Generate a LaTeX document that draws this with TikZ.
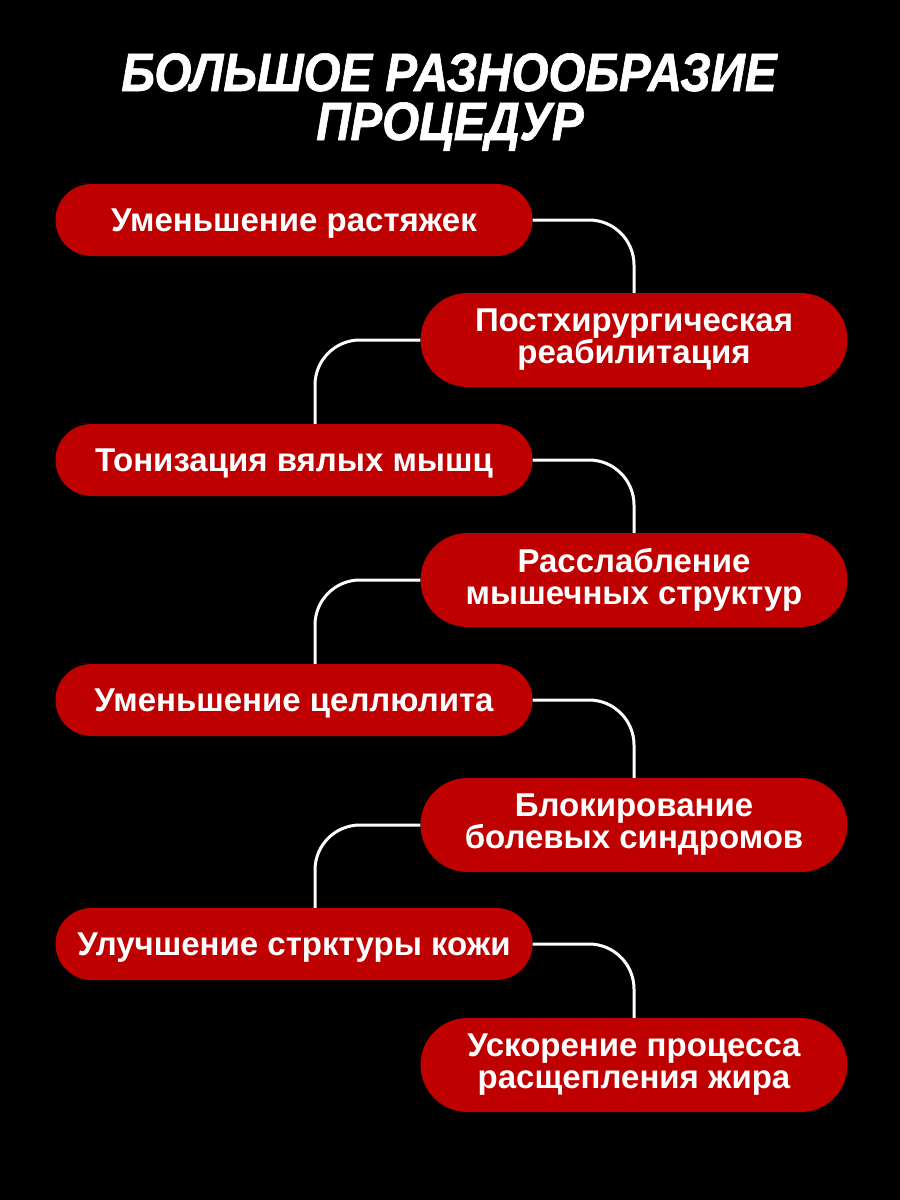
\documentclass[tikz,border=0pt]{standalone}
\usepackage{fontspec}
\setmainfont{Liberation Sans}
\newfontfamily\titlefont{Liberation Sans}[FakeStretch=0.88,FakeBold=1.2]
\definecolor{pillred}{RGB}{190,0,0}
\tikzset{
  pillbase/.style={fill=pillred, text=white, inner sep=0pt, font=\fontsize{33}{32}\selectfont\bfseries, align=center},
  pill/.style={pillbase, rounded corners=36pt, minimum height=72pt, minimum width=477pt, text height=23.6pt, text depth=0pt},
  rpill/.style={pillbase, rounded corners=47pt, minimum height=94pt, minimum width=427pt},
  conn/.style={draw=white, line width=3pt, rounded corners=45pt},
  titletext/.style={text=white, font=\titlefont\fontsize{54}{50}\selectfont\bfseries\itshape, anchor=base, inner sep=0pt}
}
\begin{document}
\begin{tikzpicture}[x=1pt,y=-1pt]
\fill[black] (0,0) rectangle (900,1200);
\useasboundingbox (0,0) rectangle (900,1200);
\node[titletext] (t1) at (449,91) {БОЛЬШОЕ РАЗНООБРАЗИЕ};
\node[titletext] (t2) at (450,140) {ПРОЦЕДУР};
\node[pill] (n1) at (294,220) {Уменьшение растяжек};
\node[rpill] (n2) at (634,340) {Постхирургическая\\реабилитация};
\node[pill] (n3) at (294,460) {Тонизация вялых мышц};
\node[rpill] (n4) at (634,580) {Расслабление\\мышечных структур};
\node[pill] (n5) at (294,700) {Уменьшение целлюлита};
\node[rpill] (n6) at (634,825) {Блокирование\\болевых синдромов};
\node[pill] (n7) at (294,944) {Улучшение стрктуры кожи};
\node[rpill] (n8) at (634,1065) {Ускорение процесса\\расщепления жира};
\draw[conn] (n1.east) -| (n2.north);
\draw[conn] (n2.west) -| ([xshift=21pt]n3.north);
\draw[conn] (n3.east) -| (n4.north);
\draw[conn] (n4.west) -| ([xshift=21pt]n5.north);
\draw[conn] (n5.east) -| (n6.north);
\draw[conn] (n6.west) -| ([xshift=21pt]n7.north);
\draw[conn] (n7.east) -| (n8.north);
\end{tikzpicture}
\end{document}
